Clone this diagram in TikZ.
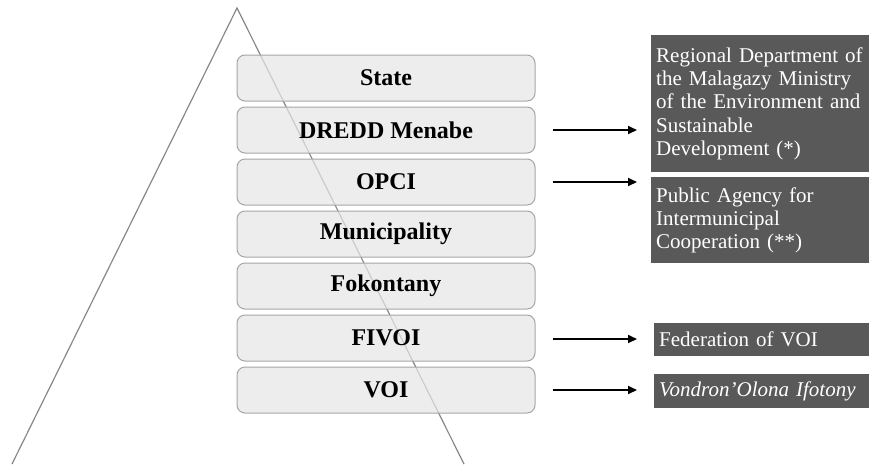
\documentclass[tikz,border=0pt]{standalone}
\usepackage{fontspec}
\setmainfont{Liberation Serif}
\usetikzlibrary{arrows.meta}
\definecolor{boxfill}{HTML}{E6E6E6}
\definecolor{boxline}{HTML}{A6A6A6}
\definecolor{darkbox}{HTML}{595959}
\definecolor{pyr}{HTML}{888888}
\begin{document}
\begin{tikzpicture}[x=1pt,y=-1pt,
  level/.style={draw=boxline, fill=boxfill, fill opacity=0.72, text opacity=1,
    rounded corners=8pt, minimum width=298pt,
    minimum height=46pt, inner sep=0pt, line width=1pt,
    font=\fontsize{24}{28}\selectfont\bfseries},
  desc/.style={fill=darkbox, text=white, anchor=north west, align=left,
    inner xsep=5pt, inner ysep=0pt, font=\fontsize{21}{23.3}\selectfont},
  link/.style={line width=2pt, -{Triangle[length=9pt,width=8pt]}}]
\useasboundingbox (0,0) rectangle (871,464);
% pyramid
\coordinate (apex) at (237,8);
\coordinate (bl) at (12,464);
\coordinate (br) at (464,464);
\draw[pyr, line width=1.2pt] (bl) -- (apex) -- (br);
% levels
\node[level] (state) at (386,78) {State};
\node[level] (dredd) at (386,130) {DREDD Menabe};
\node[level] (opci) at (386,182) {OPCI};
\node[level] (muni) at (386,234) {Municipality};
\node[level] (foko) at (386,286) {Fokontany};
\node[level] (fivoi) at (386,338) {FIVOI};
\node[level] (voi) at (386,390) {VOI};
% descriptions
\node[desc, text width=208pt, minimum height=137pt] (ddesc) at (651,35)
  {Regional Department of\\the Malagazy Ministry\\of the Environment and\\Sustainable\\Development (*)};
\node[desc, text width=208pt, minimum height=86pt] (odesc) at (651,177)
  {Public Agency for\\Intermunicipal\\Cooperation (**)};
\node[desc, text width=205pt, minimum height=33pt] (fdesc) at (654,323)
  {Federation of VOI};
\node[desc, text width=205pt, minimum height=34pt] (vdesc) at (654,374)
  {\itshape Vondron\char"0027 Olona Ifotony};
% arrows
\draw[link] ([xshift=17pt]dredd.east) -- ([xshift=-14pt]ddesc.west |- dredd.east);
\draw[link] ([xshift=17pt]opci.east) -- ([xshift=-14pt]odesc.west |- opci.east);
\draw[link] ([xshift=17pt,yshift=-1pt]fivoi.east) -- ([xshift=-17pt,yshift=-1pt]fdesc.west |- fivoi.east);
\draw[link] ([xshift=17pt]voi.east) -- ([xshift=-17pt]vdesc.west |- voi.east);
\end{tikzpicture}
\end{document}
